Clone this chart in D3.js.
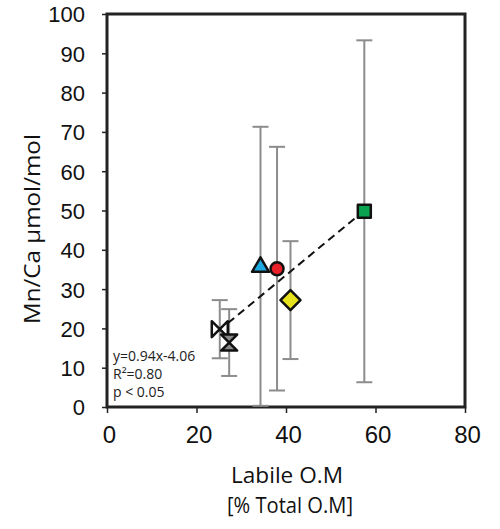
<!DOCTYPE html>
<html><head><meta charset="utf-8">
<script src="https://cdn.jsdelivr.net/npm/d3@7"></script>
<style>body{margin:0;background:#fff}svg{display:block}</style>
</head><body>
<script>
const labile = [57.5, 38.0, 34.3, 41.0, 25.2, 27.3];
const mnca   = [49.8, 35.2, 35.8, 27.2, 19.8, 16.4];
const errs   = [43.5, 31.0, 35.5, 15.0, 7.4, 8.5];
const shapes = ["square", "circle", "triangle", "diamond", "bowtie", "hourglass"];
const fills  = ["#0aa34f", "#e8202a", "#1ca9e1", "#e6e21e", "#ffffff", "#8a8a8a"];
const xTicks = [0, 20, 40, 60, 80];
const yTicks = [0, 10, 20, 30, 40, 50, 60, 70, 80, 90, 100];
const fitSlope = 0.94, fitIntercept = -4.06, fitRange = [24.8, 57.5];
const statsText = ["y=0.94x-4.06", "R²=0.80", "p < 0.05"];

const W = 500, H = 529;
const m = {l: 107, r: 35, t: 14, b: 122};
const svg = d3.select("body").append("svg").attr("width", W).attr("height", H);
const x = d3.scaleLinear().domain([0, 80]).range([m.l, W - m.r]);
const y = d3.scaleLinear().domain([0, 100]).range([H - m.b, m.t]);

// axes
const xa = svg.append("g").attr("transform", `translate(0,${H - m.b})`)
  .call(d3.axisBottom(x).tickValues(xTicks).tickSize(6).tickPadding(13));
const ya = svg.append("g").attr("transform", `translate(${m.l},0)`)
  .call(d3.axisLeft(y).tickValues(yTicks).tickSize(5).tickPadding(17));
[xa, ya].forEach(a => {
  a.select(".domain").remove();
  a.selectAll("line").attr("stroke", "#222").attr("stroke-width", 1.5);
  a.selectAll("text").attr("font-family", "Liberation Sans, Arial, sans-serif").attr("fill", "#111");
});
xa.selectAll("text").attr("font-size", 24).attr("dy", "0.72em").attr("dx", 2);
ya.selectAll("text").attr("font-size", 22).attr("dy", "0.36em");

// frame
svg.append("rect").attr("x", x(0)).attr("y", y(100))
  .attr("width", x(80) - x(0)).attr("height", y(0) - y(100))
  .attr("fill", "none").attr("stroke", "#222").attr("stroke-width", 3);

// error bars
const eb = svg.append("g").attr("stroke", "#8c8c8c").attr("stroke-width", 2);
labile.forEach((lx, i) => {
  const lo = Math.max(0, mnca[i] - errs[i]), hi = mnca[i] + errs[i];
  eb.append("line").attr("x1", x(lx)).attr("x2", x(lx)).attr("y1", y(lo)).attr("y2", y(hi));
  [lo, hi].forEach(v => eb.append("line").attr("x1", x(lx) - 8).attr("x2", x(lx) + 8)
    .attr("y1", y(v)).attr("y2", y(v)));
});

// fit line
svg.append("line")
  .attr("x1", x(fitRange[0])).attr("y1", y(fitSlope * fitRange[0] + fitIntercept))
  .attr("x2", x(fitRange[1])).attr("y2", y(fitSlope * fitRange[1] + fitIntercept))
  .attr("stroke", "#111").attr("stroke-width", 2).attr("stroke-dasharray", "8,5");

// markers
function shapePath(s) {
  switch (s) {
    case "square": return `M-6.5,-6.5H6.5V6.5H-6.5Z`;
    case "triangle": return `M0,-9L8.5,5.5L-8.5,5.5Z`;
    case "diamond": return `M0,-10L10,0L0,10L-10,0Z`;
    case "bowtie": return `M-8,-8L8,8V-8L-8,8Z`;
    case "hourglass": return `M-8,-8H8L-8,8H8Z`;
  }
}
labile.forEach((lx, i) => {
  const g = svg.append("g").attr("transform", `translate(${x(lx)},${y(mnca[i])})`);
  if (shapes[i] === "circle") {
    g.append("circle").attr("r", 6.5).attr("fill", fills[i]).attr("stroke", "#111").attr("stroke-width", 2.5);
  } else {
    g.append("path").attr("d", shapePath(shapes[i])).attr("fill", fills[i])
      .attr("stroke", "#111").attr("stroke-width", 2.5).attr("stroke-linejoin", "round");
  }
});

// stats text
statsText.forEach((t, i) => svg.append("text").attr("x", 113).attr("y", 361 + i * 18)
  .attr("font-family", "Open Sans, sans-serif").attr("font-size", 14).attr("fill", "#222").text(t));

// axis titles
const tf = "Open Sans, sans-serif";
svg.append("text").attr("transform", `translate(40,229) rotate(-90)`)
  .attr("text-anchor", "middle").attr("font-family", tf)
  .attr("font-size", 21).attr("fill", "#111")
  .attr("textLength", 190).attr("lengthAdjust", "spacingAndGlyphs").text("Mn/Ca μmol/mol");
svg.append("text").attr("x", 287).attr("y", 483).attr("text-anchor", "middle")
  .attr("font-family", tf).attr("font-size", 21).attr("fill", "#111")
  .attr("textLength", 112).attr("lengthAdjust", "spacingAndGlyphs").text("Labile O.M");
svg.append("text").attr("x", 290).attr("y", 513).attr("text-anchor", "middle")
  .attr("font-family", tf).attr("font-size", 21).attr("fill", "#111")
  .attr("textLength", 126).attr("lengthAdjust", "spacingAndGlyphs").text("[% Total O.M]");
</script>
</body></html>
